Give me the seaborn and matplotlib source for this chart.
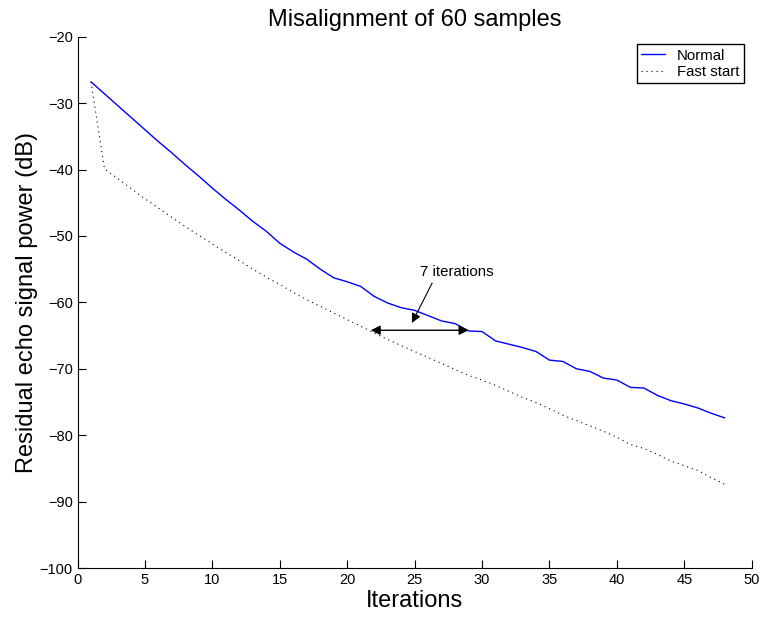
import matplotlib
matplotlib.use("Agg")
import matplotlib.pyplot as plt
import seaborn as sns
import pandas as pd

iterations = [1, 2, 3, 4, 5, 6, 7, 8, 9, 10, 11, 12, 13, 14, 15, 16,
              17, 18, 19, 20, 21, 22, 23, 24, 25, 26, 27, 28, 29, 30, 31, 32,
              33, 34, 35, 36, 37, 38, 39, 40, 41, 42, 43, 44, 45, 46, 47, 48]
normal = [-26.8, -28.6, -30.4, -32.2, -34.0, -35.8, -37.5, -39.3, -41.0, -42.8,
          -44.5, -46.1, -47.8, -49.3, -51.1, -52.4, -53.5, -55.0, -56.3, -56.9,
          -57.6, -59.1, -60.1, -60.8, -61.2, -62.0, -62.8, -63.2, -64.3, -64.4,
          -65.8, -66.3, -66.8, -67.4, -68.7, -68.9, -70.0, -70.4, -71.4, -71.7,
          -72.8, -72.9, -74.0, -74.8, -75.3, -75.9, -76.7, -77.4]
fast_start = [-26.8, -39.9, -41.4, -42.9, -44.4, -45.8, -47.2, -48.6, -49.9, -51.2,
              -52.5, -53.7, -55.0, -56.2, -57.3, -58.5, -59.6, -60.6, -61.6, -62.6,
              -63.6, -64.6, -65.6, -66.5, -67.4, -68.3, -69.2, -70.1, -71.0, -71.7,
              -72.5, -73.4, -74.3, -75.1, -76.0, -77.0, -77.8, -78.6, -79.4, -80.3,
              -81.4, -82.0, -82.9, -83.9, -84.6, -85.3, -86.4, -87.4]
x_ticks = [0, 5, 10, 15, 20, 25, 30, 35, 40, 45, 50]
y_ticks = [-100, -90, -80, -70, -60, -50, -40, -30, -20]

sns.set_style("ticks")
plt.rcParams['font.family'] = ['Liberation Sans', 'DejaVu Sans']
plt.rcParams['text.color'] = 'black'
plt.rcParams['axes.labelcolor'] = 'black'
plt.rcParams['xtick.color'] = 'black'
plt.rcParams['ytick.color'] = 'black'

fig = plt.figure(figsize=(7.62, 6.18), dpi=100)
ax = fig.add_axes([77.5 / 762, 1 - 568 / 618, (751.7 - 77.5) / 762, (568 - 36.7) / 618])

df_n = pd.DataFrame({"Iterations": iterations, "power": normal})
df_f = pd.DataFrame({"Iterations": iterations, "power": fast_start})
sns.lineplot(data=df_n, x="Iterations", y="power", ax=ax, color=(0, 0, 1),
             linewidth=1.0, label="Normal")
sns.lineplot(data=df_f, x="Iterations", y="power", ax=ax, color="black",
             linewidth=0.8, linestyle=(0, (1, 3.5)), label="Fast start")

ax.set_xlim(0, 50)
ax.set_ylim(-100, -20)
ax.set_xticks(x_ticks)
ax.set_yticks(y_ticks)
ax.tick_params(direction="in", length=6, width=0.8, labelsize=10.5, colors="black")
for s in ["top", "right"]:
    ax.spines[s].set_visible(False)
for s in ["left", "bottom"]:
    ax.spines[s].set_color("black")
    ax.spines[s].set_linewidth(0.8)

ax.set_xlabel("Iterations", fontsize=17, labelpad=2, color="black")
ax.set_ylabel("Residual echo signal power (dB)", fontsize=17, labelpad=1, color="black")
ax.set_title("Misalignment of 60 samples", fontsize=17, pad=8, color="black")

# Annotations
ax.annotate("", xy=(21.75, -64.2), xytext=(29.0, -64.2),
            arrowprops=dict(arrowstyle="<|-|>", color="black", lw=1.0,
                            mutation_scale=14, shrinkA=0, shrinkB=0))
ax.annotate("", xy=(24.8, -63.1), xytext=(26.3, -57.1),
            arrowprops=dict(arrowstyle="-|>", color="black", lw=0.8,
                            mutation_scale=14, shrinkA=0, shrinkB=0))
ax.text(28.1, -55.4, "7 iterations", fontsize=10.8, ha="center", va="center",
        color="black")

leg = ax.legend(loc="upper right", fontsize=10.8, frameon=True, fancybox=False,
                edgecolor="black", framealpha=1, handlelength=1.6,
                borderpad=0.3, labelspacing=0.15, handletextpad=0.8,
                bbox_to_anchor=(744 / 762, 1 - 44 / 618),
                bbox_transform=fig.transFigure, borderaxespad=0)
leg.get_frame().set_linewidth(1.0)
for t in leg.get_texts():
    t.set_color("black")

fig.savefig("out.png", dpi=100)
